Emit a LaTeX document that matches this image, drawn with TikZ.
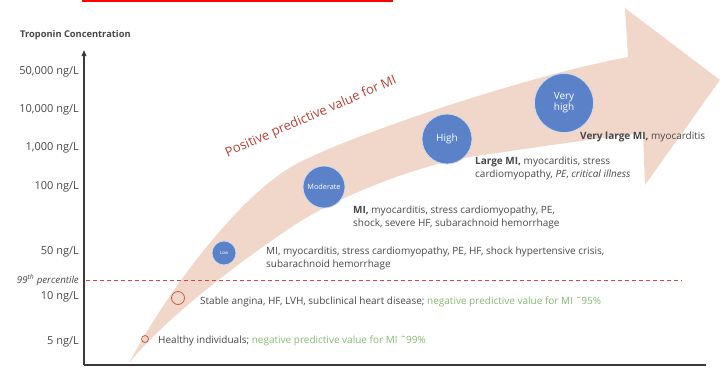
\documentclass[tikz,border=0pt]{standalone}
\usepackage{fontspec}
\setmainfont{Open Sans}
\usetikzlibrary{arrows.meta}
\definecolor{txt}{HTML}{474747}
\definecolor{band}{HTML}{F1D7C9}
\definecolor{grn}{HTML}{84B873}
\definecolor{bub}{HTML}{5B82C8}
\definecolor{ppv}{HTML}{B83E38}
\definecolor{ring}{HTML}{C95A45}
\definecolor{pctred}{HTML}{D04545}
\definecolor{axiscol}{HTML}{3A3A3A}
\tikzset{
  lbl/.style={anchor=west, align=left, text=txt, font=\fontsize{10}{13}\selectfont, inner sep=0pt},
  ylab/.style={anchor=east, text=txt, font=\fontsize{11}{12}\selectfont, inner sep=0pt},
  bubble/.style={circle, fill=bub, draw=white!70!bub, line width=0.8pt, text=white, inner sep=0pt, align=center},
  hollow/.style={circle, draw=ring, line width=0.8pt, inner sep=0pt},
}
\begin{document}
\begin{tikzpicture}[x=1pt,y=-1pt]
\useasboundingbox (0,0) rectangle (721,368);
% red line at top
\draw[red, line width=2pt] (82,0.8) coordinate (r1) -- (393,0.8) coordinate (r2);
% band arrow
\fill[band] (129,363) .. controls (165,295) and (240,192) .. (300,162)
  .. controls (360,132) and (530,75) .. (628,57)
  -- (625,8) -- (720,80) -- (645,185) -- (643,133)
  .. controls (600,138) and (530,148) .. (470,157)
  .. controls (420,165) and (340,195) .. (293,226)
  .. controls (220,275) and (160,325) .. (129,363) -- cycle;
% axes
\coordinate (o) at (84,365);
\coordinate (ytop) at (84,50);
\coordinate (xend) at (706,365);
\draw[axiscol, line width=1.6pt, -{Triangle[length=6pt,width=4.5pt]}] (o) -- (ytop);
\draw[axiscol, line width=1.6pt] (o) -- (xend);
% dashed percentile line
\coordinate (d1) at (86,280);
\coordinate (d2) at (682,280);
\draw[pctred, line width=0.9pt, dash pattern=on 4pt off 3pt] (d1) -- (d2);
% title
\node[anchor=west, text=txt, inner sep=0pt, font=\fontsize{9.3}{10}\selectfont\bfseries] (title) at (20,35) {Troponin Concentration};
% y labels
\node[ylab] (y1) at (79,72) {50,000 ng/L};
\node[ylab] (y2) at (79,110) {10,000 ng/L};
\node[ylab] (y3) at (79,148) {1,000 ng/L};
\node[ylab] (y4) at (79,187) {100 ng/L};
\node[ylab] (y5) at (79,252) {50 ng/L};
\node[ylab, font=\fontsize{9.7}{10}\selectfont\itshape] (y6) at (79,280) {99\textsuperscript{th} percentile};
\node[ylab] (y7) at (79,297) {10 ng/L};
\node[ylab] (y8) at (79,342) {5 ng/L};
% PPV label
\node[text=ppv, rotate=23.5, inner sep=0pt, font=\fontsize{13}{15}\selectfont] (ppv) at (311,117) {Positive predictive value for MI};
% bubbles
\node[bubble, minimum size=24pt, font=\fontsize{4.5}{5}\selectfont] (low) at (224,253) {Low};
\node[bubble, minimum size=42pt, font=\fontsize{7.3}{8}\selectfont] (mod) at (324,187) {Moderate};
\node[bubble, minimum size=50pt, font=\fontsize{10}{11}\selectfont] (high) at (447,139) {High};
\node[bubble, minimum size=59pt, font=\fontsize{10}{11}\selectfont] (vhigh) at (564,103) {Very\\high};
% hollow circles
\node[hollow, minimum size=13pt] (stab) at (178,298) {};
\node[hollow, minimum size=7pt] (hlth) at (145,339) {};
% descriptions
\node[lbl] (tvl) at (580,137) {\bfseries Very large MI, \mdseries myocarditis};
\node[lbl] (tl) at (475,168.5) {\bfseries Large MI, \mdseries myocarditis, stress\\cardiomyopathy, \itshape PE\upshape, \itshape critical illness};
\node[lbl] (tm) at (353,217.5) {\bfseries MI, \mdseries myocarditis, stress cardiomyopathy, PE,\\shock, severe HF, subarachnoid hemorrhage};
\node[lbl] (tlow) at (266,258.5) {MI, myocarditis, stress cardiomyopathy, PE, HF, shock hypertensive crisis,\\subarachnoid hemorrhage};
\node[lbl] (tst) at (200,302) {Stable angina, HF, LVH, subclinical heart disease; \textcolor{grn}{negative predictive value for MI ˜95\%}};
\node[lbl] (th) at (158,341) {Healthy individuals; \textcolor{grn}{negative predictive value for MI ˜99\%}};
\end{tikzpicture}
\end{document}
